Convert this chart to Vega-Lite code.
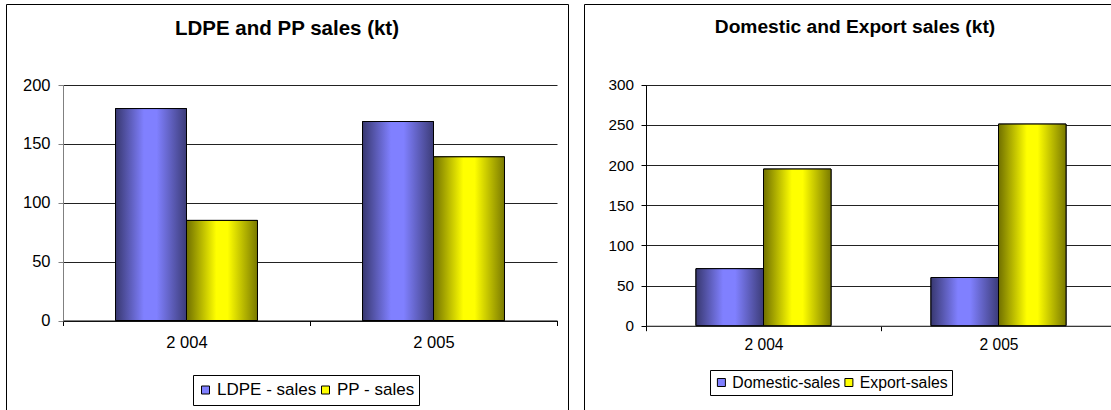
{
  "$schema": "https://vega.github.io/schema/vega-lite/v6.json",
  "background": "white",
  "padding": {"left": 5, "top": 3, "right": 0, "bottom": 0},
  "spacing": 14,
  "config": {
    "font": "Liberation Sans",
    "view": {"stroke": "black", "strokeWidth": 1},
    "axis": {"labelFont": "Liberation Sans", "labelColor": "black", "title": null},
    "legend": {"labelFont": "Liberation Sans", "labelColor": "black"}
  },
  "resolve": {
    "scale": {"color": "independent", "xOffset": "independent", "x": "independent", "y": "independent"},
    "legend": {"color": "independent"}
  },
  "hconcat": [
    {
      "width": 562,
      "height": 406,
      "title": {"text": "LDPE and PP sales (kt)", "fontSize": 20.5, "fontWeight": "bold", "font": "Liberation Sans", "color": "black", "anchor": "middle", "frame": "group", "baseline": "middle", "offset": -45},
      "data": {"values": [
        {"year": "2 004", "series": "LDPE - sales", "value": 180},
        {"year": "2 004", "series": "PP - sales", "value": 85},
        {"year": "2 005", "series": "LDPE - sales", "value": 169},
        {"year": "2 005", "series": "PP - sales", "value": 139}
      ]},
      "encoding": {
        "x": {"field": "year", "type": "nominal", "sort": ["2 004", "2 005"],
          "scale": {"range": [57, 551], "paddingInner": 0, "paddingOuter": 0},
          "axis": {"orient": "bottom", "offset": -89.5, "tickBand": "extent", "tickSize": 5, "labelPadding": 9, "labelAngle": 0, "labelFontSize": 16.5, "domainColor": "black", "tickColor": "black", "grid": false}},
        "xOffset": {"field": "series", "type": "nominal", "sort": ["LDPE - sales", "PP - sales"],
          "scale": {"paddingOuter": 0.74, "paddingInner": 0}},
        "y": {"field": "value", "type": "quantitative",
          "scale": {"domain": [0, 200], "range": [316.5, 81], "nice": false},
          "axis": {"values": [0, 50, 100, 150, 200], "offset": -57, "tickSize": 5, "labelPadding": 8, "labelFontSize": 16.5, "domainColor": "#808080", "tickColor": "#808080", "grid": true, "gridColor": "#222222", "gridWidth": 1}}
      },
      "layer": [
        {
          "mark": {"type": "bar", "stroke": "black", "strokeWidth": 1},
          "encoding": {
            "color": {"field": "series", "type": "nominal",
              "scale": {"domain": ["LDPE - sales", "PP - sales"], "range": ["#8080ff", "#ffff00"]},
              "legend": {"orient": "none", "legendX": 187, "legendY": 371, "direction": "horizontal", "title": null, "symbolType": "square", "symbolSize": 64, "labelFontSize": 17, "strokeColor": "black", "fillColor": "white", "padding": 4, "clipHeight": 22, "columnPadding": 0, "labelOffset": 3, "symbolStrokeColor": "black", "symbolStrokeWidth": 1}}
          }
        },
        {
          "transform": [{"filter": "datum.series === 'LDPE - sales'"}],
          "mark": {"type": "bar", "stroke": "black", "strokeWidth": 1,
            "fill": {"gradient": "linear", "x1": 0, "y1": 0, "x2": 1, "y2": 0, "stops": [
              {"offset": 0, "color": "#383870"}, {"offset": 0.4, "color": "#8080ff"}, {"offset": 0.58, "color": "#8080ff"}, {"offset": 1, "color": "#3c3c78"}]}}
        },
        {
          "transform": [{"filter": "datum.series === 'PP - sales'"}],
          "mark": {"type": "bar", "stroke": "black", "strokeWidth": 1,
            "fill": {"gradient": "linear", "x1": 0, "y1": 0, "x2": 1, "y2": 0, "stops": [
              {"offset": 0, "color": "#707000"}, {"offset": 0.42, "color": "#ffff00"}, {"offset": 0.58, "color": "#ffff00"}, {"offset": 1, "color": "#7a7a00"}]}}
        }
      ]
    },
    {
      "width": 542,
      "height": 406,
      "title": {"text": "Domestic and Export sales (kt)", "fontSize": 19.2, "fontWeight": "bold", "font": "Liberation Sans", "color": "black", "anchor": "middle", "frame": "group", "baseline": "middle", "offset": -42.5},
      "data": {"values": [
        {"year": "2 004", "series": "Domestic-sales", "value": 71},
        {"year": "2 004", "series": "Export-sales", "value": 195},
        {"year": "2 005", "series": "Domestic-sales", "value": 60},
        {"year": "2 005", "series": "Export-sales", "value": 251}
      ]},
      "encoding": {
        "x": {"field": "year", "type": "nominal", "sort": ["2 004", "2 005"],
          "scale": {"range": [62, 532], "paddingInner": 0, "paddingOuter": 0},
          "axis": {"orient": "bottom", "offset": -84.3, "tickBand": "extent", "tickSize": 5, "labelPadding": 6.5, "labelAngle": 0, "labelFontSize": 15.6, "domainColor": "#444444", "tickColor": "black", "grid": false}},
        "xOffset": {"field": "series", "type": "nominal", "sort": ["Domestic-sales", "Export-sales"],
          "scale": {"paddingOuter": 0.74, "paddingInner": 0}},
        "y": {"field": "value", "type": "quantitative",
          "scale": {"domain": [0, 300], "range": [321.7, 80.7], "nice": false},
          "axis": {"values": [0, 50, 100, 150, 200, 250, 300], "offset": -62, "tickSize": 5, "labelPadding": 7.5, "labelFontSize": 15.3, "domainColor": "black", "tickColor": "black", "grid": true, "gridColor": "#222222", "gridWidth": 1}}
      },
      "layer": [
        {
          "mark": {"type": "bar", "stroke": "black", "strokeWidth": 1},
          "encoding": {
            "color": {"field": "series", "type": "nominal",
              "scale": {"domain": ["Domestic-sales", "Export-sales"], "range": ["#8080ff", "#ffff00"]},
              "legend": {"orient": "none", "legendX": 126, "legendY": 366, "direction": "horizontal", "title": null, "symbolType": "square", "symbolSize": 64, "labelFontSize": 15.8, "strokeColor": "black", "fillColor": "white", "padding": 3.5, "clipHeight": 18, "columnPadding": 0.5, "labelOffset": 3, "symbolStrokeColor": "black", "symbolStrokeWidth": 1}}
          }
        },
        {
          "transform": [{"filter": "datum.series === 'Domestic-sales'"}],
          "mark": {"type": "bar", "stroke": "black", "strokeWidth": 1,
            "fill": {"gradient": "linear", "x1": 0, "y1": 0, "x2": 1, "y2": 0, "stops": [
              {"offset": 0, "color": "#383870"}, {"offset": 0.4, "color": "#8080ff"}, {"offset": 0.58, "color": "#8080ff"}, {"offset": 1, "color": "#3c3c78"}]}}
        },
        {
          "transform": [{"filter": "datum.series === 'Export-sales'"}],
          "mark": {"type": "bar", "stroke": "black", "strokeWidth": 1,
            "fill": {"gradient": "linear", "x1": 0, "y1": 0, "x2": 1, "y2": 0, "stops": [
              {"offset": 0, "color": "#707000"}, {"offset": 0.42, "color": "#ffff00"}, {"offset": 0.58, "color": "#ffff00"}, {"offset": 1, "color": "#7a7a00"}]}}
        }
      ]
    }
  ]
}
